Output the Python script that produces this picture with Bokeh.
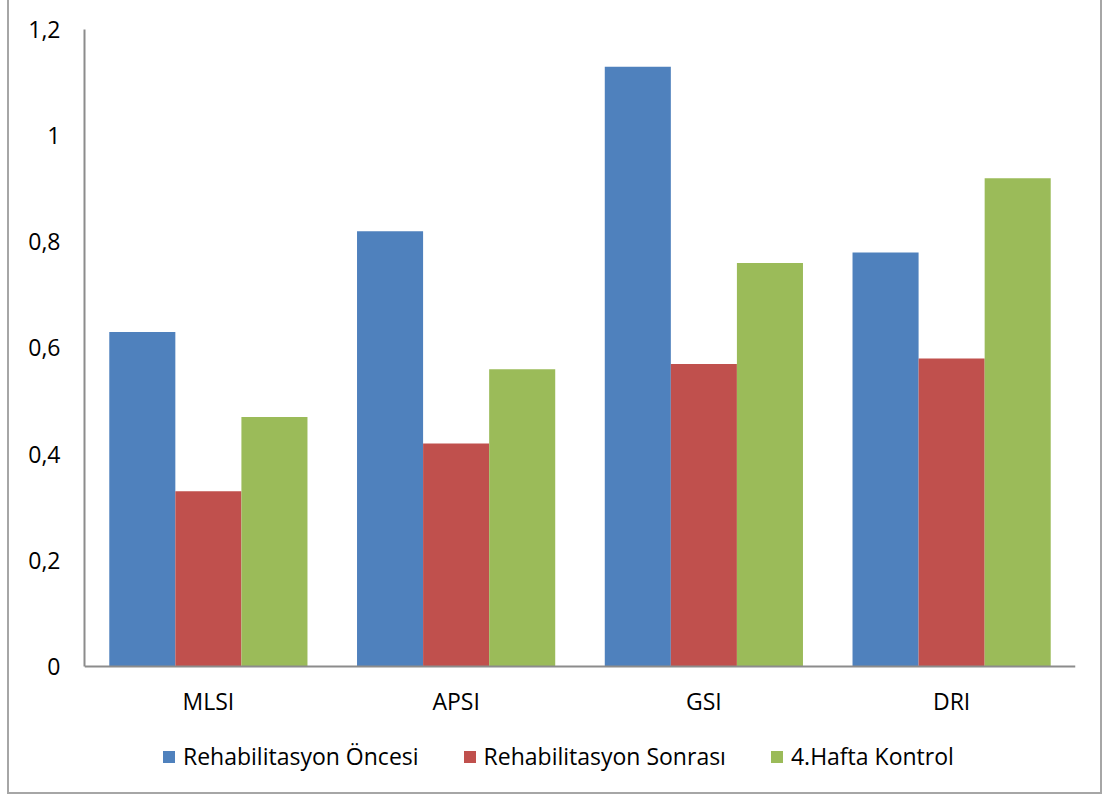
from bokeh.plotting import figure
from bokeh.models import FactorRange, Range1d, FixedTicker, CustomJSTickFormatter, Legend, LegendItem, ColumnDataSource
from bokeh.transform import dodge
from bokeh.embed import file_html
from bokeh.resources import INLINE

categories = ["MLSI", "APSI", "GSI", "DRI"]
series_names = ["Rehabilitasyon Öncesi", "Rehabilitasyon Sonrası", "4.Hafta Kontrol"]
oncesi = [0.63, 0.82, 1.13, 0.78]
sonrasi = [0.33, 0.42, 0.57, 0.58]
kontrol = [0.47, 0.56, 0.76, 0.92]
y_ticks = [0, 0.2, 0.4, 0.6, 0.8, 1.0, 1.2]
colors = ["#4F81BD", "#C0504D", "#9BBB59"]

FONT = "Open Sans"
FS = "23px"

src = ColumnDataSource(dict(cat=categories, oncesi=oncesi, sonrasi=sonrasi, kontrol=kontrol))

# frame runs to the bottom of the canvas; the value axis is bounded to 0..1.2
p = figure(width=1095, height=796, x_range=FactorRange(factors=categories, range_padding=0),
           y_range=Range1d(-0.2449, 1.2), output_backend="svg", toolbar_location=None,
           min_border_left=75, min_border_right=29, min_border_top=29, min_border_bottom=0,
           margin=(-2, 0, 0, 7))
p.styles = {"border": "2px solid #a6a6a6"}
p.outline_line_color = None
p.grid.visible = False

bw = 0.8 / 3
renderers = []
for key, off, col in zip(["oncesi", "sonrasi", "kontrol"], [-bw, 0, bw], colors):
    r = p.vbar(x=dodge("cat", off, range=p.x_range), top=key, bottom=0, width=bw, source=src,
               fill_color=col, line_color=None)
    renderers.append(r)

p.yaxis.ticker = FixedTicker(ticks=y_ticks)
p.yaxis.bounds = (0, 1.2)
p.yaxis.formatter = CustomJSTickFormatter(code="""
var s = tick.toFixed(1).replace('.', ',');
if (s.endsWith(',0')) { s = s.slice(0, -2); }
return s;
""")
p.xaxis.fixed_location = 0
for ax in (p.xaxis, p.yaxis):
    ax.axis_line_color = "#8c8c8c"
    ax.axis_line_width = 2
    ax.major_tick_out = 0
    ax.major_tick_in = 0
    ax.minor_tick_out = 0
    ax.minor_tick_in = 0
    ax.major_label_text_font = FONT
    ax.major_label_text_font_size = FS
    ax.major_label_text_color = "#000000"
p.yaxis.major_label_standoff = 24
p.xaxis.major_label_standoff = 19

legend = Legend(items=[LegendItem(label=n, renderers=[r]) for n, r in zip(series_names, renderers)],
                orientation="horizontal", location=(77, 24),
                glyph_width=15, glyph_height=15, label_standoff=7, spacing=43,
                label_text_font=FONT, label_text_font_size=FS, label_text_color="#000000",
                border_line_color=None, background_fill_alpha=0, padding=0, margin=0)
p.add_layout(legend, "center")

open("out.html", "w").write(file_html(p, INLINE))
